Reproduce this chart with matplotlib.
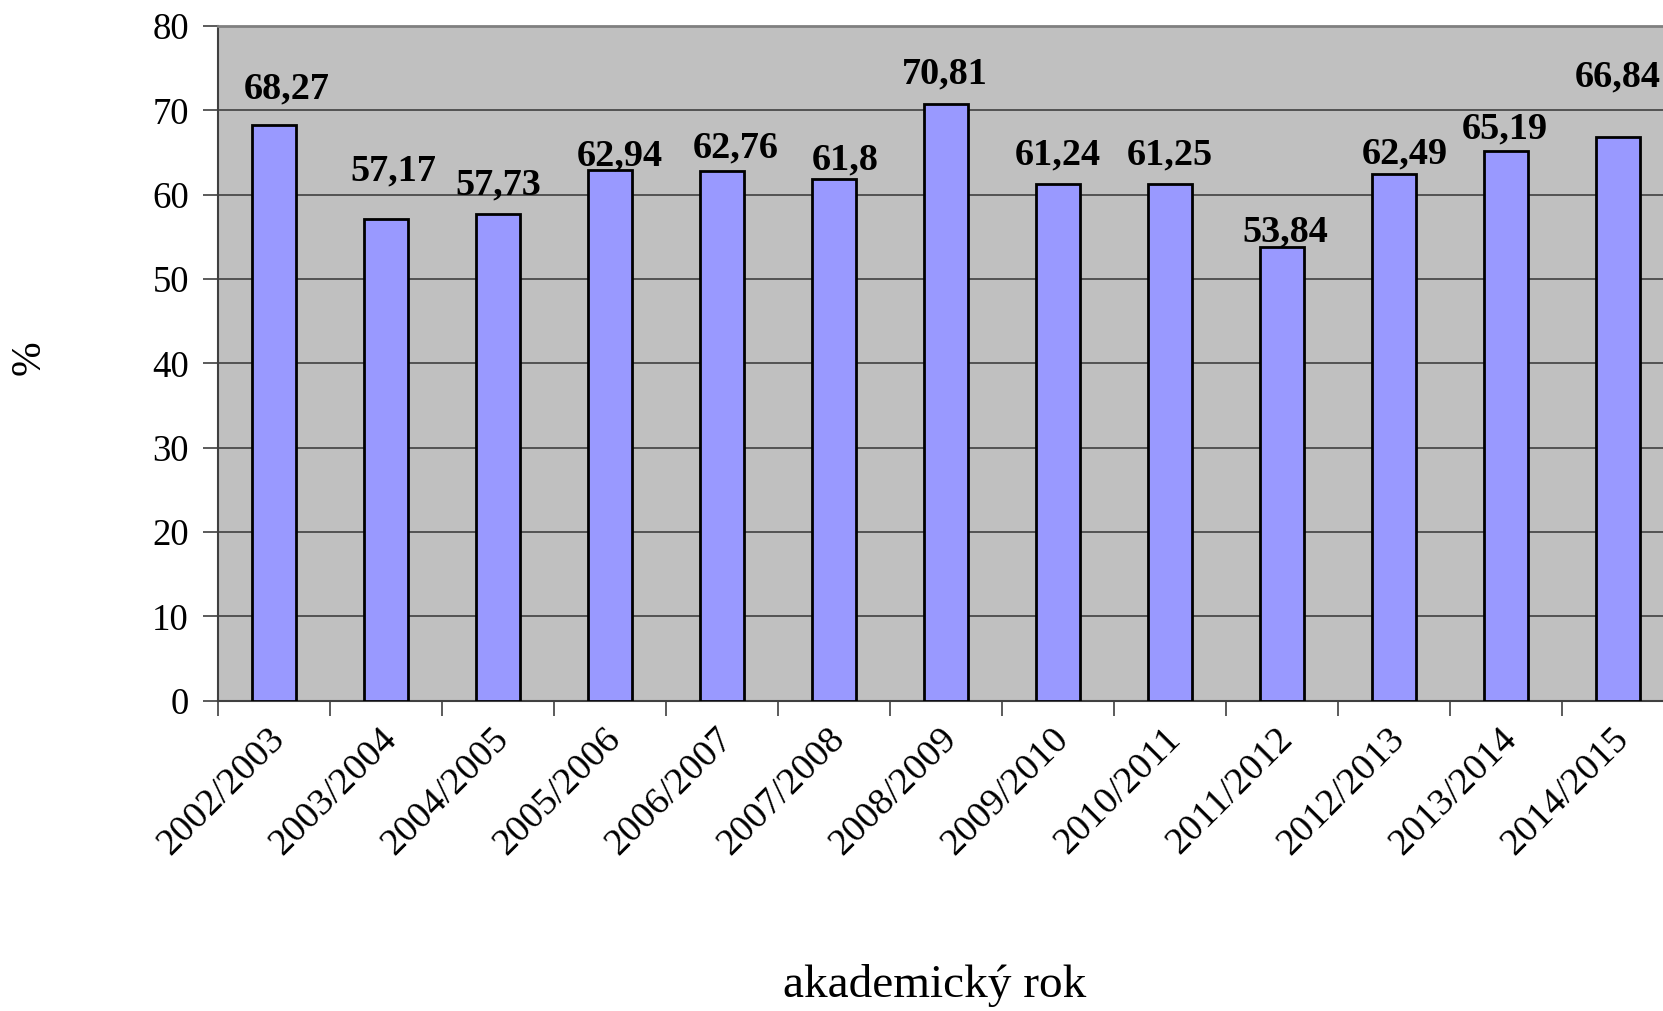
import numpy as np
import matplotlib
matplotlib.use("Agg")
import matplotlib.pyplot as plt

# academic years and success rate (%)
years = ["2002/2003", "2003/2004", "2004/2005", "2005/2006", "2006/2007",
         "2007/2008", "2008/2009", "2009/2010", "2010/2011", "2011/2012",
         "2012/2013", "2013/2014", "2014/2015"]
values = [68.27, 57.17, 57.73, 62.94, 62.76, 61.8, 70.81,
          61.24, 61.25, 53.84, 62.49, 65.19, 66.84]
value_labels = ["68,27", "57,17", "57,73", "62,94", "62,76", "61,8", "70,81",
                "61,24", "61,25", "53,84", "62,49", "65,19", "66,84"]

# where the value labels sit in the original (baseline height, x offset)
label_y = [71.46, 61.66, 60.08, 63.42, 64.43, 63.01, 73.20,
           63.56, 63.56, 54.42, 63.72, 66.68, 72.80]
label_dx = [0.113, 0.063, 0.0, 0.092, 0.125, 0.098, -0.013,
            0.0, 0.0, 0.027, 0.098, -0.009, 0.0]

plt.rcParams["font.family"] = ["Liberation Serif", "DejaVu Serif"]

W, H = 1663, 1011
fig = plt.figure(figsize=(W / 100, H / 100), dpi=100)
ax = fig.add_axes([218 / W, 1 - 700.7 / H, (1674 - 218) / W, (700.7 - 26) / H])
ax.set_facecolor("#C0C0C0")

x = np.arange(len(years)) + 0.5
ax.bar(x, values, width=0.4, color="#9999FF", edgecolor="black",
       linewidth=2, zorder=3)

for xi, lab, ly, dx in zip(x, value_labels, label_y, label_dx):
    ax.text(xi + dx, ly, lab, ha="center", va="baseline", fontsize=27.5,
            fontweight="bold", zorder=4, clip_on=False)

ax.set_xlim(0, len(years))
ax.set_ylim(0, 80)
ax.set_yticks(np.arange(0, 81, 10))
ax.grid(axis="y", color="#404040", linewidth=1.2, zorder=1)
ax.set_axisbelow(True)

ax.set_xticks(np.arange(0, len(years) + 1))
ax.set_xticklabels([])
ax.set_xticks(x + 0.05, minor=True)
ax.set_xticklabels(years, minor=True, rotation=45, ha="right",
                   va="center", rotation_mode="anchor", fontsize=27.5)
ax.tick_params(axis="x", which="minor", length=0, pad=24)
ax.tick_params(axis="x", which="major", length=11, width=1.2, color="#404040")
ax.tick_params(axis="y", length=11, width=1.2, pad=10, labelsize=26.5,
               color="#404040")

ax.spines["top"].set_color("#808080")
ax.spines["top"].set_linewidth(2)
ax.spines["right"].set_visible(False)
ax.spines["left"].set_color("#404040")
ax.spines["left"].set_linewidth(1.5)
ax.spines["bottom"].set_color("#404040")
ax.spines["bottom"].set_linewidth(1.5)

fig.text(935 / W, 1 - 997 / H, "akademický rok", ha="center",
         va="baseline", fontsize=34)
fig.text(29 / W, 1 - 358 / H, "%", ha="center", va="center",
         rotation=90, fontsize=30)

fig.savefig("out.png", dpi=100)
